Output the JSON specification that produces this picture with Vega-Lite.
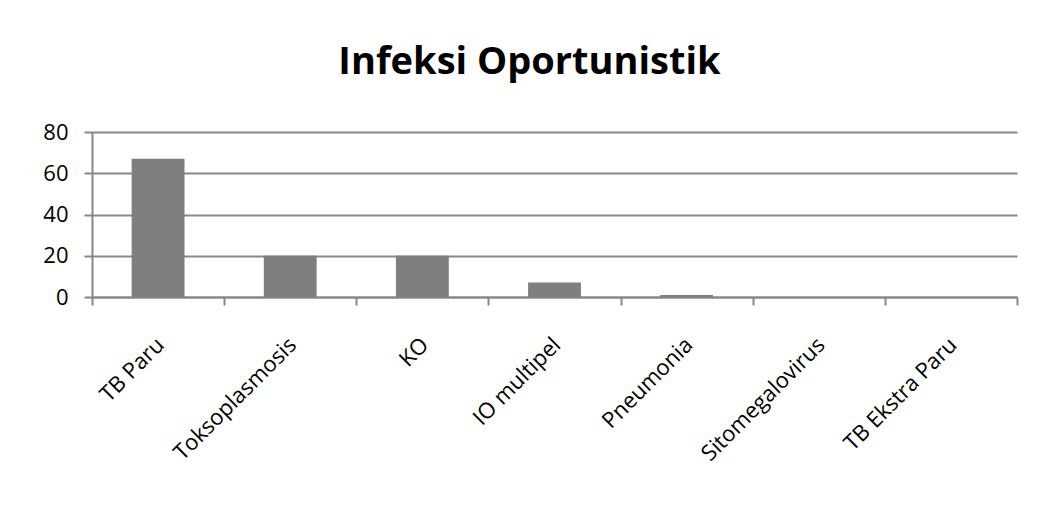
{
  "$schema": "https://vega.github.io/schema/vega-lite/v6.json",
  "width": 925,
  "height": 165,
  "padding": {"left": 42, "top": 44, "right": 5, "bottom": 5},
  "background": "white",
  "title": {
    "text": "Infeksi Oportunistik",
    "font": "Open Sans",
    "fontSize": 38,
    "fontWeight": "bold",
    "color": "#000000",
    "anchor": "middle",
    "offset": 39,
    "dx": -25
  },
  "data": {
    "values": [
      {"kategori": "TB Paru", "jumlah": 67},
      {"kategori": "Toksoplasmosis", "jumlah": 20},
      {"kategori": "KO", "jumlah": 20},
      {"kategori": "IO multipel", "jumlah": 7},
      {"kategori": "Pneumonia", "jumlah": 1},
      {"kategori": "Sitomegalovirus", "jumlah": 0},
      {"kategori": "TB Ekstra Paru", "jumlah": 0}
    ]
  },
  "mark": {"type": "bar", "width": {"band": 0.4}, "color": "#7f7f7f"},
  "encoding": {
    "x": {
      "field": "kategori",
      "type": "nominal",
      "sort": null,
      "scale": {"paddingInner": 0, "paddingOuter": 0},
      "axis": {
        "title": null,
        "labelAngle": -45,
        "labelAlign": "right",
        "labelBaseline": "middle",
        "tickBand": "extent",
        "tickSize": 8,
        "labelPadding": 36,
        "labelOffset": 2,
        "labelFont": "Open Sans",
        "labelFontSize": 22,
        "labelColor": "#000000",
        "domainColor": "#878787",
        "domainWidth": 2,
        "tickColor": "#878787",
        "tickWidth": 2
      }
    },
    "y": {
      "field": "jumlah",
      "type": "quantitative",
      "scale": {"domain": [0, 80]},
      "axis": {
        "title": null,
        "values": [0, 20, 40, 60, 80],
        "tickSize": 8,
        "labelPadding": 16,
        "labelFont": "Open Sans",
        "labelFontSize": 22,
        "labelColor": "#000000",
        "domainColor": "#878787",
        "domainWidth": 2,
        "tickColor": "#878787",
        "tickWidth": 2,
        "grid": true,
        "gridColor": "#878787",
        "gridWidth": 2
      }
    }
  },
  "config": {"view": {"stroke": null}}
}
